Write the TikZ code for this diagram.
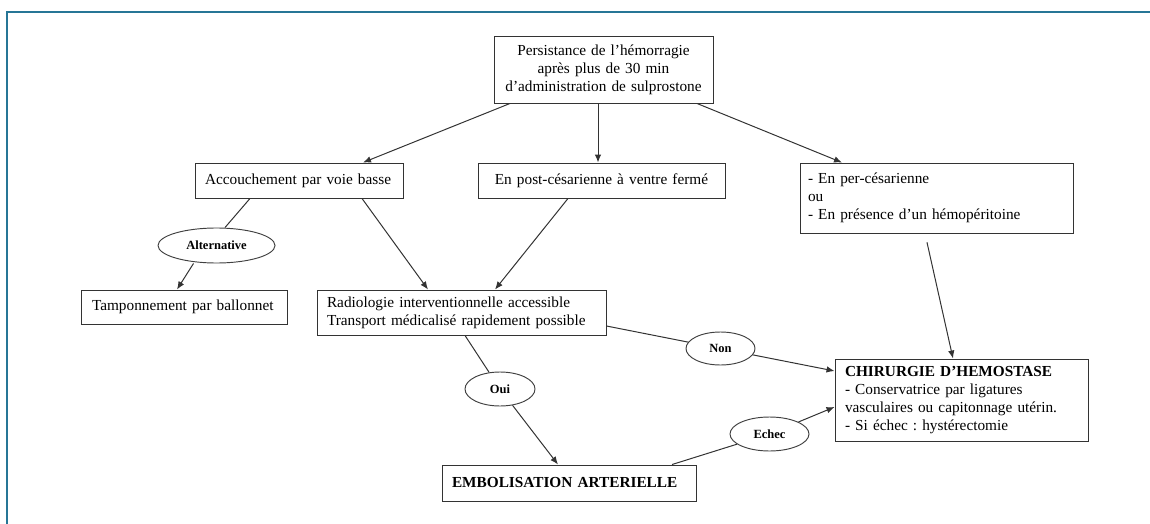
\documentclass[tikz,border=0pt]{standalone}
\usepackage{fontspec}
\setmainfont{Liberation Serif}
\usepackage{xcolor}
\usetikzlibrary{shapes,arrows.meta,positioning,calc}
\definecolor{cadrebleu}{RGB}{38,118,150}
\frenchspacing

\tikzset{
  boite/.style={draw=black!80, line width=0.95pt, rectangle, inner xsep=10pt, inner ysep=0pt,
    font=\fontsize{15.3}{18}\selectfont, align=left},
  bulle/.style={draw=black!75, line width=0.95pt, ellipse, inner sep=0pt,
    font=\bfseries\fontsize{12.5}{14}\selectfont},
  trait/.style={draw=black!80, line width=1pt},
  fleche/.style={trait, -{Latex[length=8pt,width=6.5pt]}},
}

\begin{document}
\begin{tikzpicture}[x=1pt,y=-1pt]
    \useasboundingbox (0,0) rectangle (1150,524);
    \draw[cadrebleu, line width=2pt] (1152,12) -- (7,12) -- (7,526);

    % Boxes
    \node[boite, align=center, text width=199pt, minimum height=67pt] (persist) at (603.5,69.5)
        {Persistance de l’hémorragie\\après plus de 30 min\\d’administration de sulprostone};
    \node[boite, text width=188pt, minimum height=35pt] (voiebasse) at (299,180.5)
        {Accouchement par voie basse};
    \node[boite, align=center, text width=227pt, minimum height=35pt] (postces) at (601.5,180.5)
        {En post-césarienne à ventre fermé};
    \node[boite, inner xsep=8pt, text width=257pt, minimum height=70pt] (perces) at (936.5,198)
        {- En per-césarienne\\ou\\- En présence d’un hémopéritoine};
    \node[boite, inner xsep=11pt, text width=184pt, minimum height=34pt] (ballon) at (184,307)
        {Tamponnement par ballonnet};
    \node[boite, text width=269pt, minimum height=45pt] (radio) at (461.5,312.5)
        {Radiologie interventionnelle accessible\\Transport médicalisé rapidement possible};
    \node[boite, text width=233pt, minimum height=82pt] (chir) at (961.5,400)
        {\textbf{CHIRURGIE D’HEMOSTASE}\\- Conservatrice par ligatures\\vasculaires ou capitonnage utérin.\\- Si échec : hystérectomie};
    \node[boite, text width=234pt, minimum height=36pt] (embol) at (569,483)
        {\textbf{EMBOLISATION ARTERIELLE}};

    % Labels
    \node[bulle, minimum width=117pt, minimum height=35pt] (alt) at (216.5,245.5) {Alternative};
    \node[bulle, minimum width=69pt, minimum height=33pt] (non) at (720.5,348.5) {Non};
    \node[bulle, minimum width=70pt, minimum height=34pt] (oui) at (500,389) {Oui};
    \node[bulle, minimum width=79pt, minimum height=34pt] (echec) at (769.5,434) {Echec};

    % Arrows
    \draw[fleche] ([xshift=-93.5pt]persist.south) -- ([xshift=64pt]voiebasse.north);
    \draw[fleche] ([xshift=-5.5pt]persist.south) -- ([xshift=-5.5pt]persist.south |- postces.north);
    \draw[fleche] ([xshift=93.5pt]persist.south) -- ([xshift=-94.5pt]perces.north);
    \draw[trait] ([xshift=-49pt]voiebasse.south) -- ([xshift=8.5pt]alt.north);
    \draw[fleche] ([xshift=-23pt]alt.south) -- ([xshift=-7pt]ballon.north);
    \draw[fleche] ([xshift=63pt]voiebasse.south) -- ([xshift=-33.5pt]radio.north);
    \draw[fleche] ([xshift=-33.5pt]postces.south) -- ([xshift=33.5pt]radio.north);
    \draw[fleche, shorten <=9pt] ([xshift=-11.5pt]perces.south) -- ([xshift=-8.5pt]chir.north);
    \draw[trait] ([yshift=-13.5pt]radio.east) -- (non);
    \draw[fleche] (non) -- ([yshift=29pt]chir.west);
    \draw[trait] ([xshift=3.5pt]radio.south) -- (oui);
    \draw[fleche] (oui) -- ([xshift=-11pt]embol.north);
    \draw[trait] ([xshift=103pt]embol.north) -- (echec);
    \draw[fleche] (echec) -- ([yshift=-7pt]chir.west);
\end{tikzpicture}
\end{document}
